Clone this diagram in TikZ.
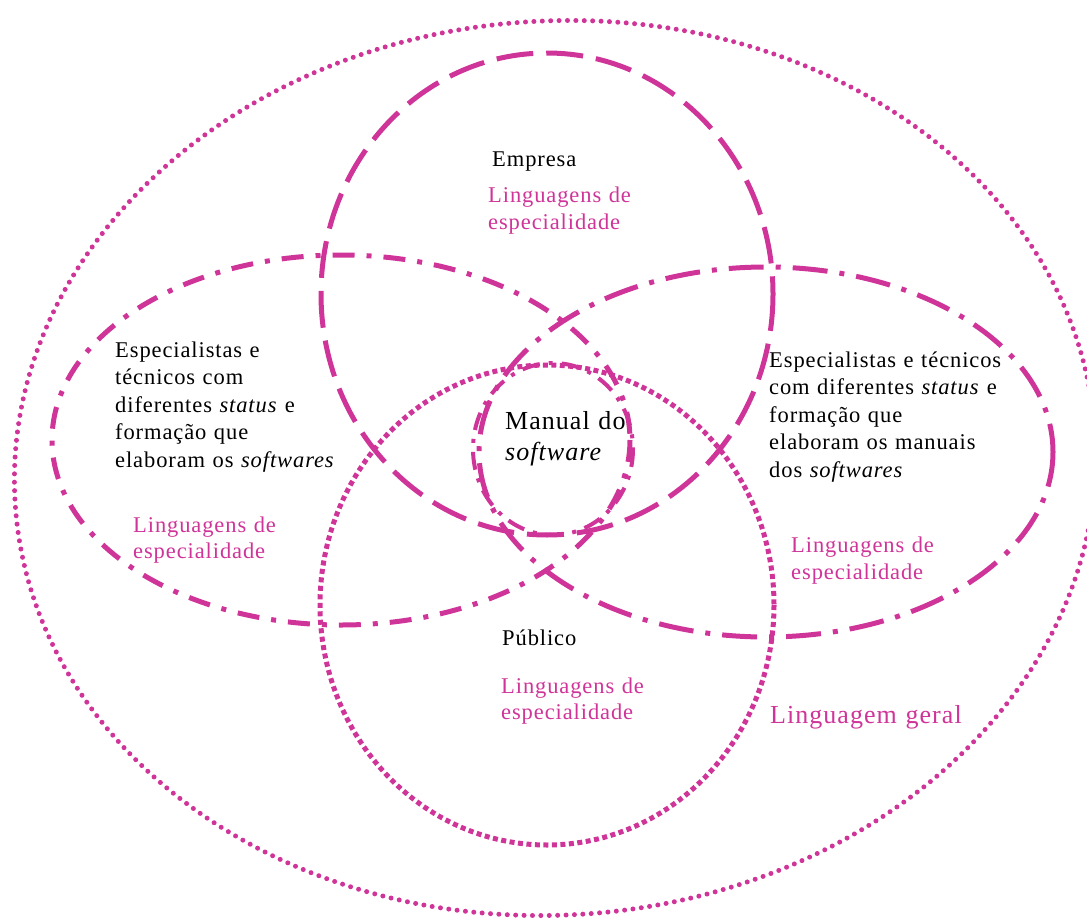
\documentclass[tikz,border=0pt]{standalone}
\usepackage{fontspec}
\setmainfont{Liberation Serif}[LetterSpace=4]
\definecolor{rosa}{RGB}{207,52,153}
\begin{document}
\begin{tikzpicture}[x=1pt,y=-1pt,
  tracos/.style={draw=rosa,line width=5pt,dash pattern=on 37pt off 13pt},
  tracoponto/.style={draw=rosa,line width=5pt,dash pattern=on 22pt off 12pt on 5pt off 12pt},
  tracopontolongo/.style={draw=rosa,line width=5pt,dash pattern=on 35pt off 12pt on 5pt off 12pt},
  tracopontomenor/.style={draw=rosa,line width=4pt,dash pattern=on 18pt off 9pt on 4pt off 9pt},
  pontos/.style={draw=rosa,line width=5pt,line cap=round,dash pattern=on 0pt off 8.4pt},
  quadrados/.style={draw=rosa,line width=5pt,dash pattern=on 5pt off 3.5pt},
  texto/.style={anchor=base west,inner sep=0pt,align=left,text width=#1,
    font=\fontsize{22.5}{27.5}\selectfont},
  texto/.default=260pt,
  termo/.style={texto=#1,text=rosa},
  termo/.default=200pt]
\useasboundingbox (0,0) rectangle (1087,918);

\draw[pontos,rotate around={4:(555,468)}] (555,468) ellipse [x radius=541, y radius=447];
\draw[tracoponto] (341,440) ellipse [x radius=289, y radius=185];
\draw[tracopontolongo] (766,452) ellipse [x radius=287, y radius=185];
\draw[tracos] (547,294) ellipse [x radius=226, y radius=241];
\draw[quadrados] (547,605) ellipse [x radius=227, y radius=240];
\draw[tracopontomenor] (553,449) ellipse [x radius=80, y radius=86];

\node[texto] (empresa) at (492,166) {Empresa};
\node[termo] (termoempresa) at (488,202) {Linguagens de\\especialidade};

\node[texto] (especialistas) at (115,357) {Especialistas e\\técnicos com\\diferentes \textit{status} e\\formação que\\elaboram os \textit{softwares}};
\node[termo,font=\fontsize{22.5}{26}\selectfont] (termoesq) at (133,532) {Linguagens de\\especialidade};

\node[texto] (redatores) at (769,367) {Especialistas e técnicos\\com diferentes \textit{status} e\\formação que\\elaboram os manuais\\dos \textit{softwares}};
\node[termo] (termodir) at (791,552) {Linguagens de\\especialidade};

\node[texto,font=\fontsize{26}{31}\selectfont] (manual) at (505,429) {Manual do\\\textit{software}};

\node[texto] (publico) at (502,645) {Público};
\node[termo,font=\fontsize{22.5}{26.5}\selectfont] (termopublico) at (501,693) {Linguagens de\\especialidade};

\node[termo,font=\fontsize{26}{31}\selectfont] (geral) at (770,723) {Linguagem geral};
\end{tikzpicture}
\end{document}
